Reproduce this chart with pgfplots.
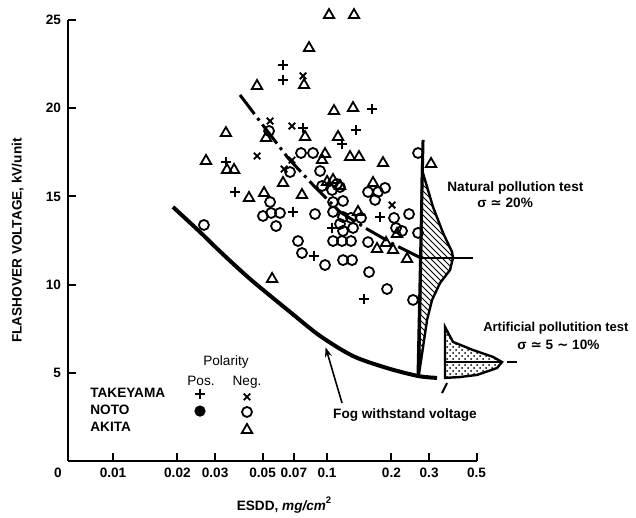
\documentclass[border=0pt]{standalone}
\usepackage{fontspec}
\setmainfont{Liberation Sans}
\newfontfamily\dejavu{DejaVu Sans}
\usepackage{pgfplots}
\pgfplotsset{compat=1.18}
\usetikzlibrary{patterns,arrows.meta}
\newcommand\ff{\fontsize{6.8pt}{8pt}\selectfont\bfseries}
\newcommand\fr{\fontsize{6.8pt}{8pt}\selectfont}
\begin{document}
\begin{tikzpicture}
\begin{axis}[
  scale only axis, width=204.3pt, height=220.5pt,
  xmode=log, xmin=0.006162, xmax=0.5, ymin=0, ymax=25,
  axis lines=left, axis line style={-, line width=1.4pt},
  tick align=inside, major tick length=4pt, tick style={line width=1pt, black},
  minor tick length=0pt,
  xtick={0.01,0.02,0.03,0.05,0.07,0.1,0.2,0.3,0.5},
  xticklabels={0.01,0.02,0.03,0.05,0.07,0.1,0.2,0.3,0.5},
  ytick={5,10,15,20,25},
  yticklabels={5,10,15,20,25},
  ticklabel style={font=\ff},
  xlabel={ESDD, \textit{mg/cm}\textsuperscript{2}},
  ylabel={FLASHOVER VOLTAGE, kV/unit},
  xlabel style={font=\ff, at={(axis description cs:0.53,-0.1)}, anchor=center},
  ylabel style={font=\ff, at={(axis description cs:-0.123,0.5)}, anchor=center},
  clip=false,
]
% AKITA (negative) triangles
\addplot[only marks, mark=triangle, mark size=3pt, mark options={line width=0.9pt}] coordinates {
(0.1022,25.28)(0.1337,25.28)(0.0824,23.41)(0.0781,21.31)(0.0471,21.26)(0.1078,19.84)
(0.1323,20.01)(0.0519,18.31)(0.0790,18.37)(0.1126,18.37)(0.0337,18.59)(0.0272,17.01)
(0.0341,16.50)(0.0368,16.50)(0.0432,14.91)(0.0508,15.19)(0.0764,15.08)(0.0623,15.76)
(0.0979,17.40)(0.0948,17.06)(0.1281,17.23)(0.1411,17.23)(0.1827,16.89)(0.3063,16.84)
(0.0554,10.32)(0.1067,15.93)(0.1001,15.82)(0.1150,15.59)(0.1641,15.76)(0.1396,14.12)
(0.1713,12.02)(0.1887,12.36)(0.2035,11.96)(0.2366,11.45)(0.2124,12.87)
};
% NOTO (negative) circles
\addplot[only marks, mark=o, mark size=2.5pt, mark options={line width=0.9pt}] coordinates {
(0.0536,18.71)(0.0266,13.38)(0.0542,14.68)(0.0502,13.89)(0.0548,14.06)(0.0603,14.06)
(0.0578,13.32)(0.0672,16.38)(0.0756,17.46)(0.0860,17.46)(0.0928,16.44)(0.0879,14.00)
(0.0732,12.47)(0.0764,11.79)(0.0979,11.11)(0.0948,15.59)(0.1056,15.36)(0.1150,15.53)
(0.1067,14.68)(0.1188,14.74)(0.1067,14.12)(0.1188,13.83)(0.1295,13.78)(0.1442,13.78)
(0.1150,13.44)(0.1323,13.21)(0.1188,13.04)(0.1067,12.47)(0.1175,12.47)(0.1295,12.47)
(0.1555,12.41)(0.1555,15.25)(0.1732,15.25)(0.1867,15.48)(0.1677,14.80)(0.2417,14.00)
(0.2057,13.78)(0.2101,13.21)(0.2242,13.04)(0.2663,12.93)(0.1188,11.39)(0.1309,11.39)
(0.1572,10.71)(0.1908,9.75)(0.2523,9.13)(0.2663,17.46)(0.1113,15.70)
};
% TAKEYAMA (positive) plus
\addplot[only marks, mark=+, mark size=2.6pt, mark options={line width=0.9pt}] coordinates {
(0.0623,22.45)(0.0623,21.60)(0.1624,19.95)(0.1366,18.76)(0.0773,18.88)(0.1175,17.97)
(0.0337,16.95)(0.0372,15.25)(0.0694,14.12)(0.1769,13.83)(0.1056,13.21)(0.0870,11.62)
(0.1490,9.18)
};
% TAKEYAMA (negative) x
\addplot[only marks, mark=x, mark size=2.3pt, mark options={line width=0.9pt}] coordinates {
(0.0773,21.83)(0.0542,19.27)(0.0686,18.99)(0.0471,17.29)(0.0630,16.55)(0.0686,17.06)
(0.2013,14.51)
};
% mean line (dash-dot)
\addplot[line width=1.5pt, dash pattern=on 12pt off 2.5pt on 1.5pt off 2.5pt] coordinates {
(0.03922,20.75)(0.04970,19.10)(0.06575,17.18)(0.08603,15.65)(0.1150,14.12)(0.1539,13.15)(0.2079,12.24)(0.2750,11.51)
};
% fog withstand voltage curve
\addplot[line width=2pt, smooth] coordinates {
(0.01907,14.40)(0.02550,12.98)(0.03162,11.88)(0.04368,10.32)(0.06718,8.45)(0.0928,7.09)
(0.1323,5.95)(0.1907,5.27)(0.2662,4.82)(0.3266,4.71)
};
% natural pollution distribution
\addplot[line width=1.2pt, pattern=north west lines] coordinates {
(0.2780,16.5)(0.3129,14.40)(0.3485,12.93)(0.3839,11.85)(0.3880,11.51)(0.3757,10.83)
(0.3374,10.09)(0.3096,9.13)(0.2934,7.99)(0.2810,6.46)(0.2692,4.95)(0.2750,11.51)
} -- cycle;
\addplot[line width=1.5pt] coordinates {(0.2810,18.2)(0.2662,4.82)};
\addplot[line width=0.6pt] coordinates {(0.2750,11.51)(0.4812,11.51)};
% artificial pollution distribution
\addplot[line width=1.2pt, pattern=crosshatch dots] coordinates {
(0.3559,7.60)(0.3880,6.75)(0.4812,6.29)(0.5967,5.90)(0.6572,5.61)(0.6230,5.27)
(0.5022,4.88)(0.4184,4.76)(0.3559,4.71)
} -- cycle;
\addplot[line width=0.6pt] coordinates {(0.3559,5.61)(0.6572,5.61)};
\addplot[line width=0.8pt] coordinates {(0.6937,5.61)(0.7726,5.61)};
\addplot[line width=1pt] coordinates {(0.3448,3.85)(0.3638,4.42)};
% arrow to the fog curve
\addplot[line width=0.8pt, -{Stealth[length=5pt,width=3.5pt]}] coordinates {(0.1175,3.29)(0.0985,6.45)};
% legend symbols
\addplot[only marks, mark=+, mark size=2.6pt, mark options={line width=0.9pt}] coordinates {(0.02550,3.80)};
\addplot[only marks, mark=x, mark size=2.3pt, mark options={line width=0.9pt}] coordinates {(0.04228,3.63)};
\addplot[only marks, mark=*, mark size=2.6pt, fill=black] coordinates {(0.02550,2.83)};
\addplot[only marks, mark=o, mark size=2.5pt, mark options={line width=0.9pt}] coordinates {(0.04228,2.78)};
\addplot[only marks, mark=triangle, mark size=3pt, mark options={line width=0.9pt}] coordinates {(0.04228,1.76)};
% texts
\node[font=\ff] at (axis cs:0.005534,-0.68) {0};
\node[font=\fr] at (axis cs:0.03373,5.61) {Polarity};
\node[font=\fr] at (axis cs:0.02578,4.54) {Pos.};
\node[font=\fr] at (axis cs:0.04228,4.48) {Neg.};
\node[font=\ff, anchor=west, inner sep=0pt] at (axis cs:0.007806,3.85) {TAKEYAMA};
\node[font=\ff, anchor=west, inner sep=0pt] at (axis cs:0.007806,2.89) {NOTO};
\node[font=\ff, anchor=west, inner sep=0pt] at (axis cs:0.007806,1.93) {AKITA};
\node[font=\ff, anchor=west, inner sep=0pt] at (axis cs:0.3636,15.48) {Natural pollution test};
\node[font=\ff, anchor=west, inner sep=0pt] at (axis cs:0.5022,14.63) {σ {\dejavu ≃} 20\%};
\node[font=\fontsize{6.5pt}{8pt}\selectfont\bfseries, anchor=west, inner sep=0pt] at (axis cs:0.5350,7.54) {Artificial pollutition test};
\node[font=\ff, anchor=west, inner sep=0pt] at (axis cs:0.7726,6.58) {σ {\dejavu ≃} 5 {\dejavu ∼} 10\%};
\node[font=\ff] at (axis cs:0.2314,2.61) {Fog withstand voltage};
\end{axis}
\pgfresetboundingbox
\path[use as bounding box] (-34pt,-28.5pt) rectangle (284pt,230.5pt);
\end{tikzpicture}
\end{document}
